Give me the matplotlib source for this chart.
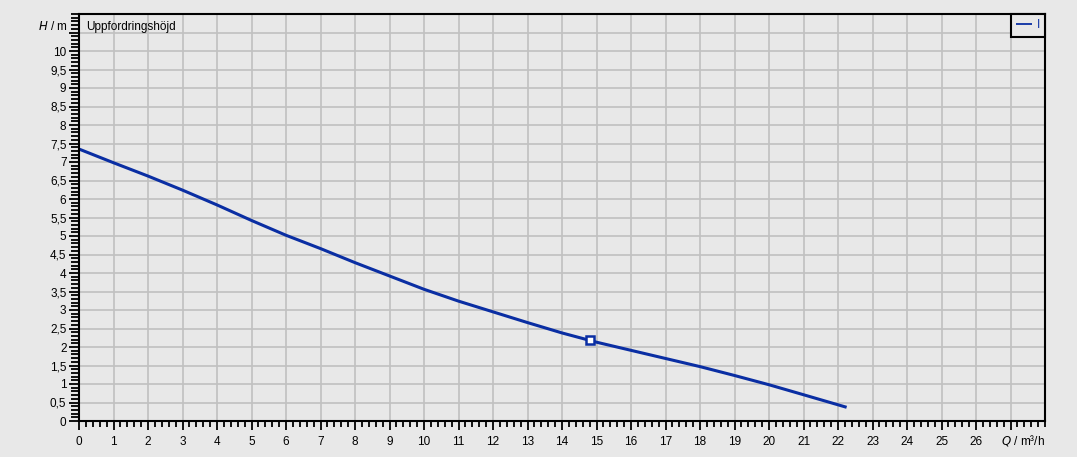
import numpy as np
import matplotlib.pyplot as plt
from matplotlib.ticker import MultipleLocator

plt.rcParams['font.family'] = ['Liberation Sans', 'DejaVu Sans']

# pump curve
q = [0, 1, 2, 3, 4, 5, 6, 7, 8, 9, 10, 11, 12, 13, 14, 15, 16, 17, 18, 19, 20, 21, 22.25]
h = [7.35, 6.98, 6.62, 6.24, 5.84, 5.42, 5.02, 4.66, 4.28, 3.92, 3.56, 3.24, 2.95, 2.66, 2.38, 2.13, 1.91, 1.69, 1.47, 1.23, 0.98, 0.71, 0.37]
op_q, op_h = 14.8, 2.2
x_ticks = list(range(0, 28))
y_ticks = [i * 0.5 for i in range(0, 22)]

bg = '#e8e8e8'
blue = '#0a2ea3'

fig = plt.figure(figsize=(10.77, 4.57), dpi=100, facecolor=bg)
ax = fig.add_axes([79 / 1077, 36 / 457, 966 / 1077, 407 / 457])
ax.set_facecolor(bg)

ax.plot(q, h, color=blue, lw=2.2, label='I', solid_capstyle='butt')
ax.plot([op_q], [op_h], marker='s', ms=6, mfc='white', mec=blue, mew=1.8, ls='none')

ax.set_xlim(0, 28)
ax.set_ylim(0, 11)
ax.set_xticks(x_ticks)
ax.set_xticklabels([str(v) if v <= 26 else '' for v in x_ticks])
ax.set_yticks(y_ticks)
ax.set_yticklabels([('%g' % v).replace('.', ',') if v <= 10 else '' for v in y_ticks])
ax.xaxis.set_minor_locator(MultipleLocator(0.2))
ax.yaxis.set_minor_locator(MultipleLocator(0.1))
ax.tick_params(axis='x', which='major', length=6.5, width=1.3, labelsize=8.5, pad=4)
ax.tick_params(axis='x', which='minor', length=4.3, width=1.3)
ax.tick_params(axis='y', which='major', length=7, width=1.3, labelsize=8.5, pad=2)
ax.tick_params(axis='y', which='minor', length=5.5, width=1.3)
ax.grid(True, which='major', color='#c0c0c0', lw=1.2)
ax.set_axisbelow(True)
for s in ax.spines.values():
    s.set_linewidth(1.5)
    s.set_color('black')

ax.text(-0.012, 10.65, r'$\it{H}$ / m', ha='right', va='center', fontsize=8.5,
        transform=ax.get_yaxis_transform(), clip_on=False)
ax.text(0.2, 10.65, 'Uppfordringshöjd', ha='left', va='center', fontsize=8.5)
ax.text(28, -0.52, r'$\it{Q}$ / m³/h', ha='right', va='center', fontsize=8.5, clip_on=False)

leg = ax.legend(loc='upper right', borderaxespad=0, fancybox=False, framealpha=1,
                facecolor=bg, edgecolor='black', handlelength=1.3, handletextpad=0.4,
                fontsize=8.5, borderpad=0.45)
leg.get_frame().set_linewidth(1.5)
leg.get_lines()[0].set_linewidth(1.3)
for t in leg.get_texts():
    t.set_color(blue)

fig.savefig('out.png', dpi=100, facecolor=bg)
